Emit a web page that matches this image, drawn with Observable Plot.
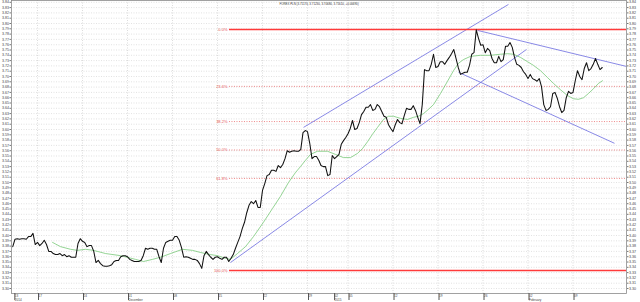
<!DOCTYPE html>
<html>
<head>
<meta charset="utf-8">
<script src="https://cdn.jsdelivr.net/npm/d3@7"></script>
<script src="https://cdn.jsdelivr.net/npm/@observablehq/plot@0.6"></script>
<style>
  html, body { margin: 0; padding: 0; background: #fff; }
  svg { display: block; }
</style>
</head>
<body>
<div id="chart"></div>
<script>
// ---- Data (trading-day index: 0 = Mon 17 Nov 2014; one bar = 6 hours) ----
const titleText = "FOREX PLN (3.71170, 3.71230, 3.70680, 3.71610, +0.00690)";
const startDay = -2.75;
const barStep = 0.25;
const prices = [
  3.379,3.393,3.394,3.393,3.394,3.394,3.393,3.398,3.398,3.404,
  3.383,3.387,3.381,3.385,3.391,3.383,3.370,3.370,3.366,3.364,
  3.364,3.366,3.362,3.364,3.360,3.362,3.359,3.359,3.359,3.385,
  3.394,3.389,3.387,3.379,3.381,3.381,3.370,3.349,3.353,3.347,
  3.343,3.342,3.342,3.343,3.345,3.351,3.353,3.353,3.360,3.362,
  3.362,3.360,3.355,3.353,3.351,3.351,3.351,3.353,3.362,3.376,
  3.374,3.376,3.376,3.374,3.374,3.360,3.349,3.376,3.387,3.389,
  3.391,3.391,3.398,3.398,3.391,3.377,3.359,3.360,3.359,3.357,
  3.355,3.355,3.353,3.347,3.338,3.362,3.370,3.364,3.359,3.355,
  3.359,3.360,3.357,3.355,3.359,3.359,3.351,3.357,3.364,3.376,
  3.387,3.398,3.413,3.425,3.443,3.457,3.464,3.460,3.466,3.453,
  3.453,3.485,3.498,3.513,3.515,3.523,3.523,3.521,3.532,3.528,
  3.534,3.545,3.560,3.557,3.559,3.560,3.559,3.559,3.562,3.594,
  3.598,3.596,3.574,3.545,3.549,3.549,3.542,3.532,3.530,3.530,
  3.513,3.515,3.551,3.545,3.549,3.553,3.572,3.579,3.585,3.592,
  3.602,3.617,3.600,3.602,3.613,3.628,3.634,3.642,3.642,3.647,
  3.636,3.638,3.647,3.643,3.634,3.625,3.623,3.609,3.602,3.596,
  3.609,3.619,3.613,3.611,3.626,3.640,3.638,3.638,3.645,3.636,
  3.623,3.611,3.647,3.713,3.711,3.711,3.723,3.742,3.717,3.719,
  3.728,3.728,3.723,3.730,3.736,3.743,3.751,3.734,3.717,3.704,
  3.706,3.708,3.708,3.721,3.742,3.745,3.788,3.772,3.759,3.760,
  3.745,3.753,3.749,3.734,3.726,3.726,3.738,3.728,3.732,3.757,
  3.757,3.764,3.755,3.736,3.723,3.721,3.717,3.709,3.704,3.696,
  3.704,3.696,3.694,3.691,3.696,3.681,3.647,3.636,3.638,3.643,
  3.668,3.670,3.659,3.643,3.632,3.636,3.660,3.672,3.668,3.670,
  3.692,3.711,3.700,3.694,3.715,3.726,3.711,3.715,3.723,3.734,
  3.723,3.713,3.717
];

// moving average (green)
const maDays = [1.67,2.56,3.67,4.44,5.33,6.22,7.56,9.22,10.89,11.78,12.78,13.67,14.78,16.11,17.22,18.11,19.22,20.0,20.89,21.44,22.22,23.11,24.0,25.11,26.11,27.0,27.89,28.67,29.22,29.78,30.33,31.11,32.22,33.11,34.0,34.78,35.56,36.11,36.67,37.22,37.78,38.44,39.0,39.56,40.33,41.11,41.78,42.33,42.89,43.44,44.0,44.78,45.56,46.22,46.78,47.33,48.11,49.22,50.33,51.44,52.22,52.89,53.67,54.44,55.11,55.89,56.67,57.33,58.11,58.89,59.56,60.11,60.67,61.22,61.78,62.33,62.78];
const maValues = [3.387,3.379,3.374,3.372,3.374,3.372,3.366,3.362,3.355,3.351,3.355,3.359,3.366,3.374,3.372,3.368,3.364,3.362,3.357,3.355,3.366,3.379,3.398,3.425,3.451,3.474,3.500,3.519,3.530,3.542,3.553,3.559,3.559,3.553,3.547,3.547,3.555,3.564,3.577,3.591,3.604,3.619,3.625,3.625,3.621,3.619,3.623,3.625,3.630,3.638,3.647,3.668,3.691,3.711,3.725,3.732,3.738,3.740,3.740,3.742,3.743,3.742,3.736,3.728,3.721,3.711,3.698,3.687,3.675,3.664,3.658,3.657,3.660,3.668,3.677,3.687,3.692];

// trend lines (blue): [startDay, startPrice, endDay, endPrice]
const trendStartDays  = [21.44, 29.56, 48.89, 46.78];
const trendStartPrice = [3.349, 3.604, 3.787, 3.708];
const trendEndDays    = [54.33, 52.33, 65.44, 64.11];
const trendEndPrice   = [3.751, 3.836, 3.719, 3.574];

// Fibonacci retracement
const fibHigh = 3.7887, fibLow = 3.3340, fibStart = 21.33;
const fibRatios = [0, 0.236, 0.382, 0.5, 0.618, 1];
const fibLabels = ["0.0%", "23.6%", "38.2%", "50.0%", "61.8%", "100.0%"];

// x axis ticks
const tickDays   = [-2.63, 0, 5, 10, 15, 20, 25, 30, 32.9, 34.5, 39.5, 44.5, 49.5, 54.5, 59.5];
const tickDayLbl = ["13","17","24","01","08","15","22","29","02","05","12","19","26","02","09"];
const tickSubLbl = ["2014","","","December","","","","","2015","","","","","February",""];
const gridDays   = [0, 5, 10, 15, 20, 25, 30, 34.5, 39.5, 44.5, 49.5, 54.5, 59.5];

const xDomain = [-2.889, 65.444];
const yDomain = [3.2906, 3.8434];
const yTicks = d3.range(330, 385).map(v => v / 100);

// ---- Derived tables ----
const series = prices.map((p, i) => ({day: startDay + i * barStep, price: p}));
const ma = maDays.map((d, i) => ({day: d, price: maValues[i]}));
const trends = trendStartDays.map((d, i) => ({x1: d, y1: trendStartPrice[i], x2: trendEndDays[i], y2: trendEndPrice[i]}));
const fib = fibRatios.map((r, i) => ({price: fibHigh - r * (fibHigh - fibLow), label: fibLabels[i], solid: r === 0 || r === 1}));
const dayMap = new Map(tickDays.map((d, i) => [d, tickDayLbl[i]]));
const subTicks = tickDays.filter((d, i) => tickSubLbl[i] !== "");
const subMap = new Map(tickDays.map((d, i) => [d, tickSubLbl[i]]));

const red = "#e65656";
const chart = Plot.plot({
  width: 640,
  height: 302,
  marginLeft: 11,
  marginRight: 14,
  marginTop: 0,
  marginBottom: 9,
  style: {fontFamily: "'Liberation Sans', Arial, sans-serif", background: "#fff", overflow: "visible"},
  x: {domain: xDomain, axis: null},
  y: {domain: yDomain, axis: null},
  marks: [
    Plot.ruleY(yTicks, {stroke: "#cfcfcf", strokeWidth: 0.6, strokeDasharray: "1,1.5"}),
    Plot.ruleX(gridDays, {stroke: "#c4c4c4", strokeWidth: 0.6, strokeDasharray: "1,1.5"}),
    Plot.ruleY(fib.filter(d => !d.solid), {y: "price", x1: fibStart, x2: xDomain[1], stroke: red, strokeWidth: 0.7, strokeDasharray: "1,1.5"}),
    Plot.text(fib, {x: fibStart, y: "price", text: "label", textAnchor: "end", dx: -2, fill: red, fontSize: 4}),
    Plot.link(trends, {x1: "x1", y1: "y1", x2: "x2", y2: "y2", stroke: "#7474e2", strokeWidth: 0.85}),
    Plot.line(ma, {x: "day", y: "price", stroke: "#66c266", strokeWidth: 0.7}),
    Plot.ruleY(fib.filter(d => d.solid), {y: "price", x1: fibStart, x2: xDomain[1], stroke: "#ff3a3a", strokeWidth: 1.3}),
    Plot.line(series, {x: "day", y: "price", stroke: "#111", strokeWidth: 1.05}),
    Plot.frame({stroke: "#8a8a8a", strokeWidth: 0.8}),
    Plot.axisY({ticks: yTicks, anchor: "left", tickFormat: ".2f", tickSize: 1.5, tickPadding: 1, fontSize: 3.6, stroke: "#777", fill: "#444"}),
    Plot.axisY({ticks: yTicks, anchor: "right", tickFormat: ".2f", tickSize: 1.5, tickPadding: 1, fontSize: 3.6, stroke: "#777", fill: "#444"}),
    Plot.axisX({ticks: tickDays, anchor: "bottom", tickFormat: d => dayMap.get(d), tickSize: 7, tickPadding: -5.8, textAnchor: "start", dx: 1, fontSize: 3.1, stroke: "#555", fill: "#444"}),
    Plot.axisX({ticks: subTicks, anchor: "bottom", tickFormat: d => subMap.get(d), tickSize: 0, tickPadding: 5.4, textAnchor: "start", dx: 1, fontSize: 3.1, fill: "#444"}),
    Plot.text([titleText], {frameAnchor: "top", dy: 2, fontSize: 2.9, fill: "#333", lineAnchor: "top"})
  ]
});
document.getElementById("chart").appendChild(chart);
</script>
</body>
</html>
